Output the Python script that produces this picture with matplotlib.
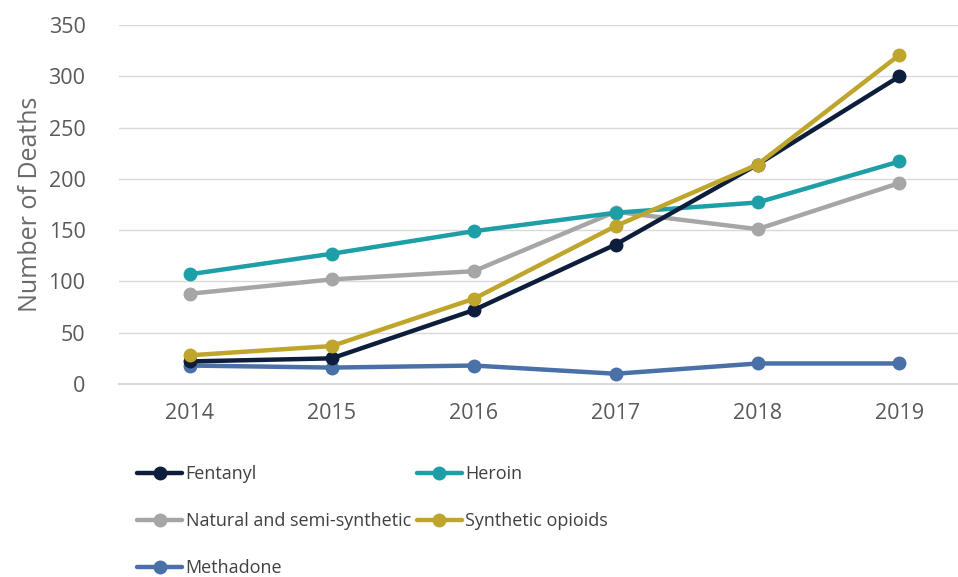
import matplotlib
matplotlib.use("Agg")
import matplotlib.pyplot as plt

years = [2014, 2015, 2016, 2017, 2018, 2019]
fentanyl = [22, 25, 72, 136, 214, 300]
heroin = [107, 127, 149, 167, 177, 217]
natural = [88, 102, 110, 168, 151, 196]
synthetic = [28, 37, 83, 154, 214, 321]
methadone = [18, 16, 18, 10, 20, 20]

names = ["Fentanyl", "Heroin", "Natural and semi-synthetic", "Synthetic opioids", "Methadone"]
colors = ["#0c1e3b", "#1e9fa7", "#a6a6a6", "#bfa52b", "#4a70a8"]

plt.rcParams["font.family"] = ["Open Sans", "DejaVu Sans"]
grey = "#595959"

fig = plt.figure(figsize=(9.58, 5.77), dpi=100)
ax = fig.add_axes([0.124, 0.3345, 0.889, 0.622])

series = [fentanyl, heroin, natural, synthetic, methadone]
# draw order: methadone at back, synthetic above fentanyl
lines = {}
for idx in [4, 2, 1, 0, 3]:
    ln, = ax.plot(years, series[idx], color=colors[idx], lw=3.2, marker="o", ms=9,
                  label=names[idx], solid_capstyle="round", clip_on=False)
    lines[idx] = ln

ax.set_xlim(2013.5, 2019.5)
ax.set_ylim(0, 350)
ax.set_yticks(range(0, 351, 50))
ax.set_xticks(years)
ax.grid(axis="y", color="#d9d9d9", lw=1)
ax.axhline(0, color="#d9d9d9", lw=1.5, zorder=0, clip_on=False)
ax.set_axisbelow(True)
for s in ax.spines.values():
    s.set_visible(False)
ax.tick_params(length=0, labelsize=15.5, colors=grey)
ax.tick_params(axis="x", pad=14)
ax.tick_params(axis="y", pad=24)
ax.set_ylabel("Number of Deaths", fontsize=18, color="#6a6a6a", labelpad=4)

leg_kw = dict(frameon=False, handlelength=2.5, handletextpad=0.2, labelspacing=1.6,
              prop={"size": 13}, labelcolor="#404040")
l1 = fig.legend([lines[0], lines[2], lines[4]], [names[0], names[2], names[4]],
                loc="upper left", bbox_to_anchor=(0.126, 0.222), **leg_kw)
l2 = fig.legend([lines[1], lines[3]], [names[1], names[3]],
                loc="upper left", bbox_to_anchor=(0.418, 0.222), **leg_kw)

fig.savefig("out.png", dpi=100)
